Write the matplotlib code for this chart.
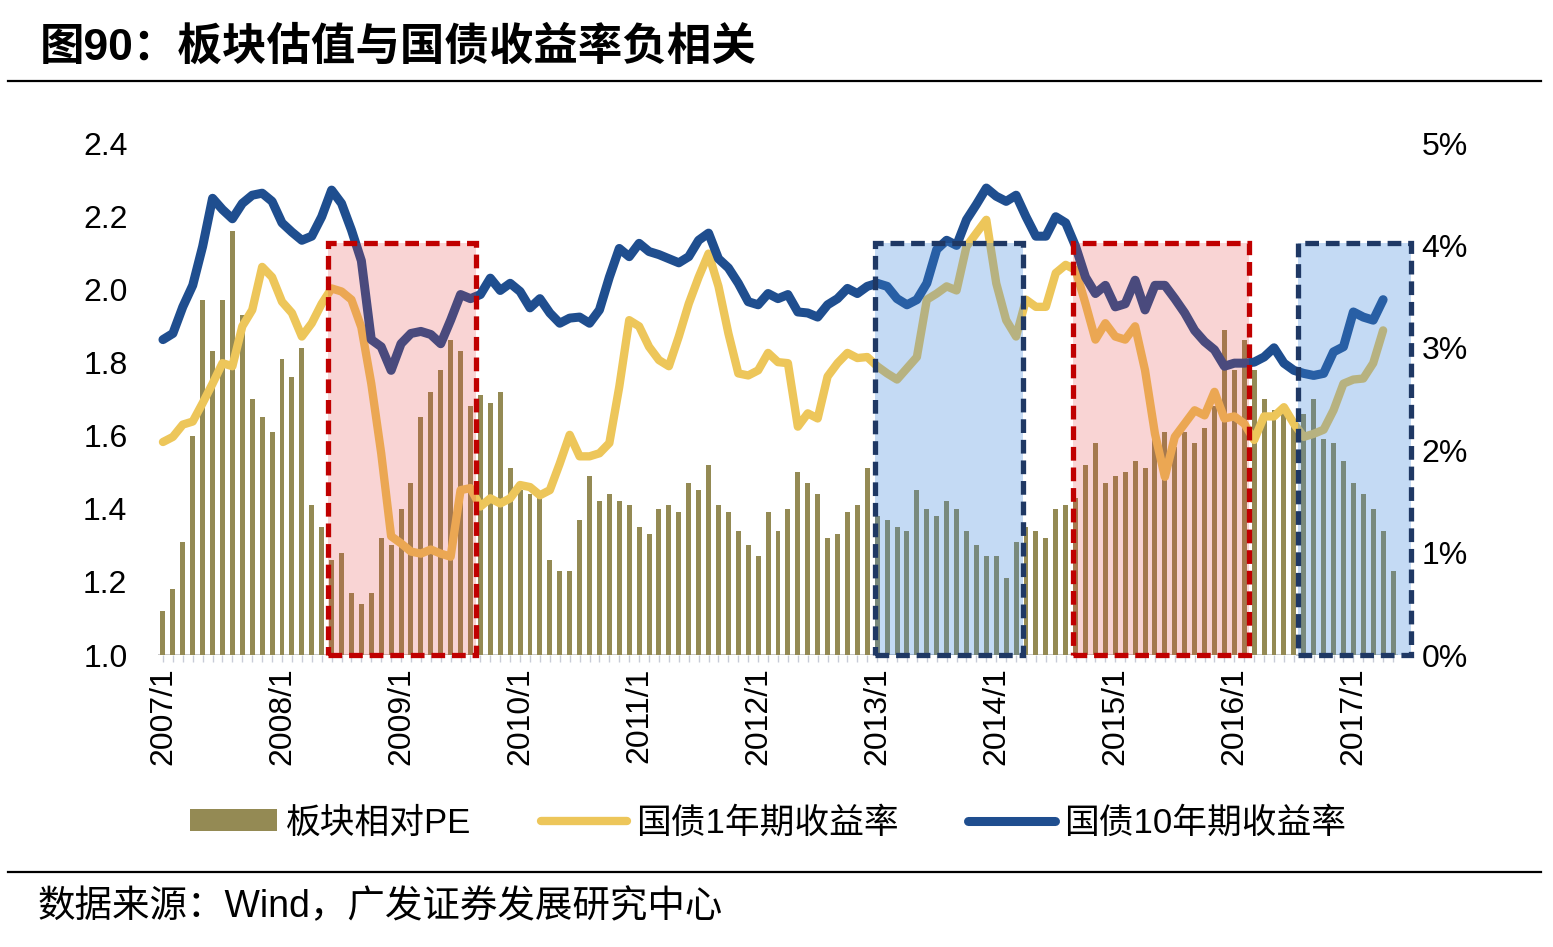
import matplotlib
matplotlib.use('Agg')
import matplotlib.pyplot as plt
import matplotlib.patches as patches
from matplotlib.lines import Line2D
from matplotlib.ticker import FixedLocator, FuncFormatter
import numpy as np

plt.rcParams['font.family'] = ['Liberation Sans', 'Noto Sans CJK SC', 'DejaVu Sans']

# monthly data, 2007/1 - 2017/5
years = list(range(2007, 2018))
tick_labels = ['%d/1' % y for y in years]

pe = [1.12, 1.18, 1.31, 1.60, 1.97, 1.83, 1.97, 2.16, 1.93, 1.70, 1.65, 1.61,
      1.81, 1.76, 1.84, 1.41, 1.35, 1.26, 1.28, 1.17, 1.14, 1.17, 1.32, 1.30,
      1.40, 1.47, 1.65, 1.72, 1.78, 1.86, 1.83, 1.68, 1.71, 1.69, 1.72, 1.51,
      1.45, 1.44, 1.43, 1.26, 1.23, 1.23, 1.37, 1.49, 1.42, 1.44, 1.42, 1.41,
      1.35, 1.33, 1.40, 1.41, 1.39, 1.47, 1.45, 1.52, 1.41, 1.39, 1.34, 1.30,
      1.27, 1.39, 1.34, 1.40, 1.50, 1.47, 1.44, 1.32, 1.33, 1.39, 1.41, 1.51,
      1.38, 1.37, 1.35, 1.34, 1.45, 1.40, 1.38, 1.42, 1.40, 1.34, 1.30, 1.27,
      1.27, 1.21, 1.31, 1.35, 1.34, 1.32, 1.40, 1.41, 1.43, 1.52, 1.58, 1.47,
      1.49, 1.50, 1.53, 1.51, 1.60, 1.61, 1.57, 1.61, 1.58, 1.62, 1.68, 1.89,
      1.78, 1.86, 1.78, 1.70, 1.67, 1.68, 1.64, 1.66, 1.70, 1.59, 1.58, 1.53,
      1.47, 1.44, 1.40, 1.34, 1.23]

y1 = [2.08, 2.13, 2.25, 2.28, 2.46, 2.65, 2.85, 2.82, 3.21, 3.37, 3.79, 3.69,
      3.45, 3.34, 3.11, 3.24, 3.43, 3.58, 3.55, 3.47, 3.20, 2.65, 1.97, 1.16,
      1.09, 1.01, 0.99, 1.03, 0.99, 0.96, 1.61, 1.63, 1.45, 1.53, 1.48, 1.53,
      1.66, 1.64, 1.56, 1.61, 1.87, 2.15, 1.94, 1.94, 1.97, 2.07, 2.62, 3.27,
      3.21, 3.01, 2.88, 2.82, 3.11, 3.43, 3.69, 3.92, 3.60, 3.14, 2.75, 2.73,
      2.78, 2.95, 2.86, 2.85, 2.23, 2.36, 2.31, 2.72, 2.85, 2.95, 2.90, 2.91,
      2.82, 2.75, 2.69, 2.80, 2.91, 3.47, 3.53, 3.60, 3.56, 3.99, 4.12, 4.25,
      3.63, 3.27, 3.11, 3.47, 3.40, 3.40, 3.73, 3.81, 3.76, 3.43, 3.08, 3.24,
      3.11, 3.08, 3.21, 2.78, 2.16, 1.74, 2.13, 2.26, 2.39, 2.34, 2.57, 2.31,
      2.33, 2.26, 2.10, 2.33, 2.33, 2.42, 2.26, 2.13, 2.16, 2.20, 2.39, 2.65,
      2.69, 2.70, 2.85, 3.17]

y10 = [3.08, 3.14, 3.40, 3.61, 3.99, 4.46, 4.35, 4.26, 4.41, 4.49, 4.51, 4.43,
       4.22, 4.13, 4.05, 4.09, 4.28, 4.54, 4.41, 4.15, 3.85, 3.08, 3.01, 2.78,
       3.04, 3.14, 3.16, 3.13, 3.04, 3.27, 3.52, 3.48, 3.52, 3.68, 3.56, 3.63,
       3.55, 3.39, 3.48, 3.34, 3.24, 3.29, 3.30, 3.24, 3.37, 3.69, 3.97, 3.89,
       4.02, 3.94, 3.91, 3.87, 3.83, 3.89, 4.05, 4.12, 3.87, 3.78, 3.63, 3.45,
       3.42, 3.53, 3.48, 3.52, 3.35, 3.34, 3.30, 3.42, 3.48, 3.58, 3.53, 3.60,
       3.63, 3.60, 3.48, 3.42, 3.47, 3.63, 3.96, 4.05, 4.00, 4.25, 4.40, 4.56,
       4.48, 4.43, 4.49, 4.28, 4.09, 4.09, 4.28, 4.22, 3.99, 3.69, 3.53, 3.61,
       3.40, 3.43, 3.66, 3.37, 3.61, 3.61, 3.48, 3.34, 3.17, 3.06, 2.98, 2.82,
       2.85, 2.85, 2.86, 2.91, 3.00, 2.85, 2.78, 2.75, 2.73, 2.75, 2.96, 3.01,
       3.35, 3.30, 3.27, 3.47]

# highlighted periods (month index start, end), red = yields falling, blue = rising
red_boxes = [(16.6, 31.55), (91.7, 109.5)]
blue_boxes = [(71.8, 86.7), (114.4, 125.8)]

W, H = 1553, 947
fig = plt.figure(figsize=(W / 100, H / 100), dpi=100)
ax = fig.add_axes([158 / W, 1 - 655 / H, (1398 - 158) / W, (655 - 143) / H])

xb = np.arange(len(pe))
xl = np.arange(len(y1))

bar_col = '#948A54'
ax.bar(xb, pe, width=0.5, color=bar_col, zorder=2, label='板块相对PE')
ax.set_xlim(-0.5, len(pe) - 0.5)
ax.set_ylim(1.0, 2.4)
ax.set_yticks(np.arange(1.0, 2.41, 0.2))
ax.yaxis.set_major_formatter(FuncFormatter(lambda v, p: '%.1f' % v))

ax2 = ax.twinx()
l1, = ax2.plot(xl, y1, color='#EDC65A', lw=6, solid_joinstyle='round',
               solid_capstyle='round', zorder=3, label='国债1年期收益率')
l2, = ax2.plot(xl, y10, color='#1F4E8F', lw=6.5, solid_joinstyle='round',
               solid_capstyle='round', zorder=4, label='国债10年期收益率')
ax2.set_ylim(0, 5)
ax2.set_yticks(range(0, 6))
ax2.yaxis.set_major_formatter(FuncFormatter(lambda v, p: '%d%%' % v))

# shaded boxes
for (a, b) in red_boxes:
    ax2.add_patch(patches.Rectangle((a, 0), b - a, 4.02, facecolor=(0.90, 0.24, 0.24, 0.22),
                                    edgecolor='none', zorder=8, clip_on=False))
    ax2.add_patch(patches.Rectangle((a, 0), b - a, 4.02, fill=False, edgecolor='#C00000',
                                    lw=3.8, linestyle=(0, (2.6, 1.3)), zorder=9, clip_on=False))
for (a, b) in blue_boxes:
    ax2.add_patch(patches.Rectangle((a, 0), b - a, 4.02, facecolor=(0.24, 0.53, 0.86, 0.30),
                                    edgecolor='none', zorder=8, clip_on=False))
    ax2.add_patch(patches.Rectangle((a, 0), b - a, 4.02, fill=False, edgecolor='#1F3864',
                                    lw=3.8, linestyle=(0, (2.6, 1.3)), zorder=9, clip_on=False))

# axes styling
for a_ in (ax, ax2):
    for s in ['top', 'left', 'right', 'bottom']:
        a_.spines[s].set_visible(False)
ax.axhline(1.0, color='#BFBFBF', lw=1.2, zorder=1)

ax.tick_params(axis='y', length=0, pad=22, labelsize=23)
ax2.tick_params(axis='y', length=0, pad=17, labelsize=23)
ax.xaxis.set_major_locator(FixedLocator(list(range(0, len(pe), 12))))
ax.set_xticklabels(tick_labels, rotation=90, fontsize=23)
ax.xaxis.set_minor_locator(FixedLocator(list(range(len(pe)))))
ax.tick_params(axis='x', which='both', length=5, color='#C8CCD8', width=1, pad=4)

# legend
bar_handle = patches.Patch(facecolor=bar_col, edgecolor='none')
fig.legend([bar_handle, l1, l2], ['板块相对PE', '国债1年期收益率', '国债10年期收益率'],
           loc='center', bbox_to_anchor=(768 / W, 1 - 823 / H), ncol=3, frameon=False,
           fontsize=25, handlelength=2.5, handleheight=0.6, handletextpad=0.25,
           columnspacing=2.0)

# title, rules and source
fig.text(40 / W, 1 - 48 / H, '图90：板块估值与国债收益率负相关', fontsize=32,
         weight='bold', ha='left', va='center')
fig.add_artist(Line2D([8 / W, 1541 / W], [1 - 81 / H] * 2, color='black', lw=1.6))
fig.add_artist(Line2D([8 / W, 1541 / W], [1 - 872 / H] * 2, color='black', lw=1.6))
fig.text(38 / W, 1 - 907 / H, '数据来源：Wind，广发证券发展研究中心', fontsize=27,
         ha='left', va='center')

fig.savefig('out.png', dpi=100)
